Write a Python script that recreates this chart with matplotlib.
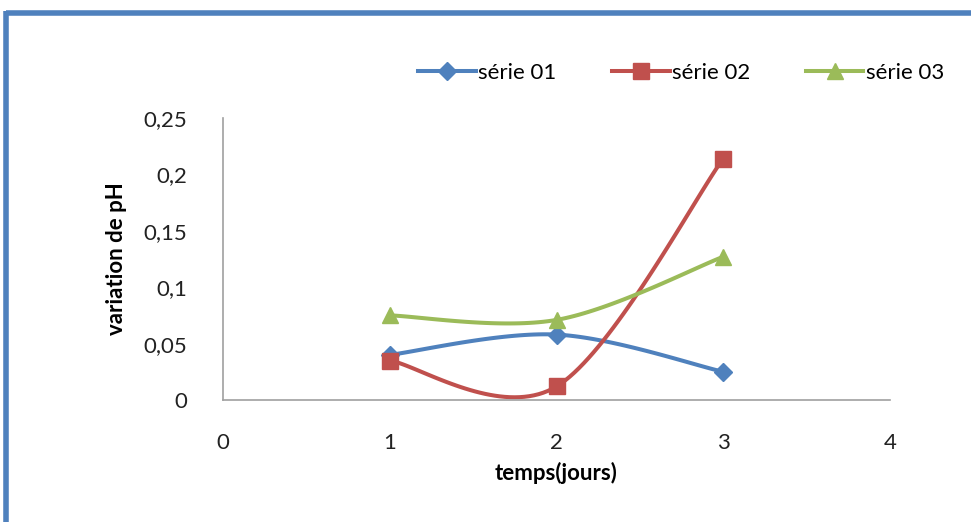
import matplotlib.pyplot as plt
from matplotlib.lines import Line2D
import numpy as np

plt.rcParams['font.family'] = ['Lato', 'DejaVu Sans']

jours = [1, 2, 3]
serie01 = [0.040, 0.058, 0.025]
serie02 = [0.035, 0.012, 0.214]
serie03 = [0.075, 0.071, 0.127]
labels = ["série 01", "série 02", "série 03"]
colors = ["#4F81BD", "#C0504D", "#9BBB59"]
markers = ["D", "s", "^"]
msizes = [9, 12, 11]
xticks = [0, 1, 2, 3, 4]
yticks = [0, 0.05, 0.1, 0.15, 0.2, 0.25]


def smooth(x, y, n=40):
    # Excel-like smoothed line: cubic bezier between points (Catmull-Rom, tension 1/6)
    p = np.column_stack([x, y]).astype(float)
    ext = np.vstack([p[0], p, p[-1]])
    out = []
    t = np.linspace(0, 1, n)[:, None]
    for i in range(len(p) - 1):
        p0, p1, p2, p3 = ext[i], ext[i + 1], ext[i + 2], ext[i + 3]
        c1 = p1 + (p2 - p0) / 6
        c2 = p2 - (p3 - p1) / 6
        seg = ((1 - t) ** 3) * p1 + 3 * ((1 - t) ** 2) * t * c1 + 3 * (1 - t) * t ** 2 * c2 + t ** 3 * p2
        out.append(seg)
    out = np.vstack(out)
    return out[:, 0], out[:, 1]


fig = plt.figure(figsize=(9.71, 5.22), dpi=100)
ax = fig.add_axes([0.2297, 0.2337, 0.6869, 0.5403])

handles = []
for ys, lab, c, m, ms in zip([serie01, serie02, serie03], labels, colors, markers, msizes):
    sx, sy = smooth(jours, ys)
    ax.plot(sx, sy, color=c, lw=2.9, solid_capstyle='round', zorder=2)
    ax.plot(jours, ys, ls='none', marker=m, ms=ms, color=c, zorder=3)
    handles.append(Line2D([], [], color=c, lw=2.9, marker=m, ms=ms, label=lab))

ax.set_xlim(0, 4)
ax.set_ylim(0, 0.25)
ax.set_xticks(xticks)
ax.set_yticks(yticks)
ax.set_xticklabels([str(v) for v in xticks])
ax.set_yticklabels([("%g" % v).replace(".", ",") for v in yticks])
ax.tick_params(length=0, labelsize=16, colors="#222222")
ax.tick_params(axis='x', pad=24)
ax.tick_params(axis='y', pad=26)
for s in ["top", "right"]:
    ax.spines[s].set_visible(False)
for s in ["left", "bottom"]:
    ax.spines[s].set_color("#A0A0A0")
    ax.spines[s].set_linewidth(1.2)

ax.set_xlabel("temps(jours)", fontsize=16, fontweight='bold', labelpad=6)
ax.set_ylabel("variation de pH", fontsize=16, fontweight='bold', labelpad=12)

fig.legend(handles=handles, loc='center', bbox_to_anchor=(681 / 971, 1 - 73 / 522),
           ncol=3, frameon=False, fontsize=16, handlelength=2.6, handletextpad=0.1,
           columnspacing=2.5)

# blue frame around the chart
fig.add_artist(Line2D([6 / 971, 1], [1 - 13 / 522] * 2, color="#4F81BD", lw=4,
                      transform=fig.transFigure, solid_capstyle='butt'))
fig.add_artist(Line2D([6 / 971] * 2, [0, 1 - 11 / 522], color="#4F81BD", lw=4,
                      transform=fig.transFigure, solid_capstyle='butt'))

fig.savefig("out.png", dpi=100)
